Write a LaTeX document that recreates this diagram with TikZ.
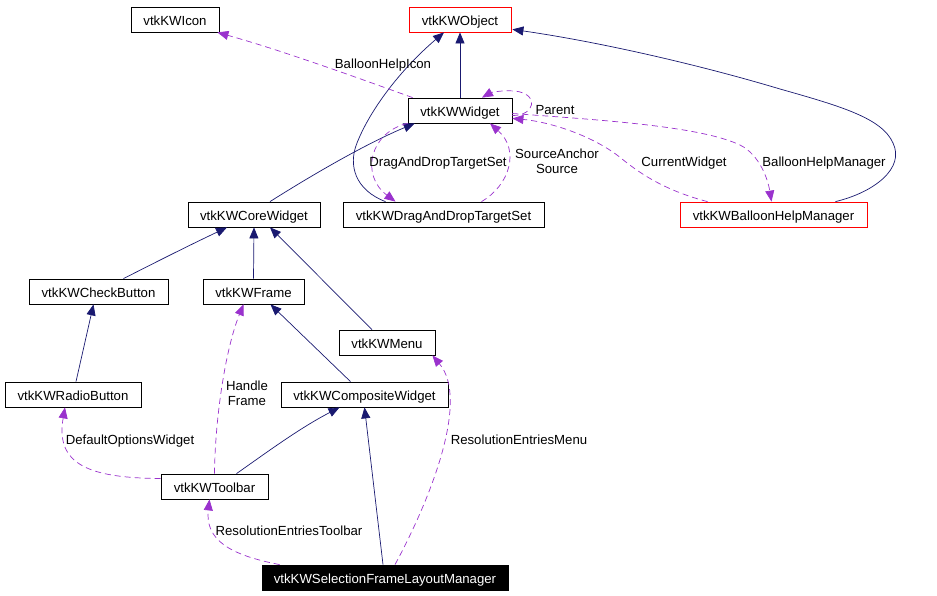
\documentclass[tikz,border=0pt]{standalone}
\usepackage{fontspec}
\setmainfont{Liberation Sans}
\usetikzlibrary{arrows.meta,calc}
\definecolor{navy}{RGB}{25,25,112}
\definecolor{orch}{RGB}{154,50,205}
\begin{document}
\begin{tikzpicture}[x=1pt,y=-1pt,
 cls/.style={draw=black, line width=0.8pt, fill=white, minimum height=25pt, inner sep=0pt, text height=11pt, text depth=0pt, font=\fontsize{13.2}{15}\selectfont},
 redcls/.style={cls, draw=red},
 inh/.style={draw=navy, line width=0.7pt, -{Triangle[length=11pt,width=9pt]}},
 use/.style={draw=orch, line width=0.7pt, dash pattern=on 6pt off 4pt, -{Triangle[length=11pt,width=9pt]}},
 lbl/.style={font=\fontsize{13.2}{15}\selectfont, inner sep=0pt, align=center},
 lbla/.style={lbl, text height=10pt, text depth=0pt}
]
\useasboundingbox (0,0) rectangle (937,595);

\node[cls, minimum width=88pt] (icon) at (175,19.5) {vtkKWIcon};
\node[redcls, minimum width=102pt] (obj) at (460,19.5) {vtkKWObject};
\node[cls, minimum width=104pt] (widget) at (460,110.5) {vtkKWWidget};
\node[cls, minimum width=132pt] (core) at (254,214.5) {vtkKWCoreWidget};
\node[cls, minimum width=201pt] (dnd) at (443.5,214.5) {vtkKWDragAndDropTargetSet};
\node[redcls, minimum width=187pt] (bhm) at (773.5,214.5) {vtkKWBalloonHelpManager};
\node[cls, minimum width=139pt] (check) at (98.5,291.5) {vtkKWCheckButton};
\node[cls, minimum width=101pt] (frame) at (253.5,291.5) {vtkKWFrame};
\node[cls, minimum width=96pt] (menu) at (387,342.5) {vtkKWMenu};
\node[cls, minimum width=136pt] (radio) at (73,394.5) {vtkKWRadioButton};
\node[cls, minimum width=167pt] (comp) at (364.5,394.5) {vtkKWCompositeWidget};
\node[cls, minimum width=107pt] (toolbar) at (214.5,486.5) {vtkKWToolbar};
\node[cls, minimum width=246pt, fill=black, text=white] (sflm) at (385,577.5) {vtkKWSelectionFrameLayoutManager};

% inheritance
\draw[inh] (widget.north) -- (obj.south);
\draw[inh] ($(bhm.north)+(62,0)$) .. controls (875,192) and (905,168) .. (893,143) .. controls (882,118) and (840,106) .. (780,89) .. controls (700,65) and (600,42) .. ($(obj.south east)+(1,-3)$);
\draw[inh] ($(dnd.north)+(-58,0)$) .. controls (355,190) and (348,165) .. (357,143) .. controls (370,110) and (400,70) .. ($(obj.south)+(-16,0)$);
\draw[inh] ($(core.north)+(16,0)$) .. controls (320,170) and (370,142) .. ($(widget.south west)+(7,0)$);
\draw[inh] ($(check.north)+(25,0)$) .. controls (160,260) and (190,245) .. ($(core.south)+(-27,0)$);
\draw[inh] (frame.north) -- (core.south);
\draw[inh] ($(menu.north)+(-15,0)$) -- ($(core.south)+(16,0)$);
\draw[inh] ($(radio.north)+(3,0)$) -- ($(check.south)+(-5,0)$);
\draw[inh] ($(comp.north)+(-14,0)$) -- ($(frame.south)+(17,0)$);
\draw[inh] ($(toolbar.north)+(22,0)$) .. controls (270,450) and (300,428) .. ($(comp.south)+(-25,0)$);
\draw[inh] ($(sflm.north)+(-2,0)$) -- (comp.south);

% usage
\draw[use] ($(widget.north west)+(5,0)$) .. controls (350,75) and (280,50) .. ($(icon.south east)+(-2,0)$);
\node[lbla] (l1) at (383,63) {BalloonHelpIcon};
\draw[use] ($(widget.east)+(0,5)$) .. controls (535,116) and (540,94) .. (515,91) .. controls (500,90) and (490,93) .. ($(widget.north)+(22,0)$);
\node[lbla] (l2) at (555,109) {Parent};
\draw[use] (widget.south west) .. controls (370,132) and (360,175) .. ($(dnd.north)+(-48,0)$);
\node[lbla] (l3) at (438,161) {DragAndDropTargetSet};
\draw[use] ($(dnd.north)+(38,0)$) .. controls (510,185) and (520,150) .. ($(widget.south)+(30,0)$);
\node[lbl] (l4) at (557,161) {SourceAnchor\\Source};
\draw[use] ($(bhm.north)+(-66,0)$) .. controls (655,188) and (630,165) .. (617,155) .. controls (590,135) and (550,122) .. ($(widget.south east)+(0,-5)$);
\node[lbla] (l5) at (684,161) {CurrentWidget};
\draw[use] ($(widget.east)+(0,3)$) .. controls (600,120) and (700,126) .. (740,145) .. controls (760,155) and (768,180) .. ($(bhm.north)+(-2,0)$);
\node[lbla] (l6) at (824,161) {BalloonHelpManager};
\draw[use] (toolbar.north) .. controls (215,420) and (225,350) .. ($(frame.south)+(-10,0)$);
\node[lbl] (l7) at (247,393) {Handle\\Frame};
\draw[use] ($(toolbar.west)+(0,-8)$) .. controls (90,478) and (55,465) .. ($(radio.south)+(-8,0)$);
\node[lbla] (l8) at (130,439) {DefaultOptionsWidget};
\draw[use] ($(sflm.north)+(10,0)$) .. controls (430,500) and (470,400) .. ($(menu.south east)+(-3,0)$);
\node[lbla] (l9) at (519,439) {ResolutionEntriesMenu};
\draw[use] ($(sflm.north west)+(18,0)$) .. controls (230,555) and (205,540) .. ($(toolbar.south)+(-5,0)$);
\node[lbla] (l10) at (289,530) {ResolutionEntriesToolbar};
\end{tikzpicture}
\end{document}
